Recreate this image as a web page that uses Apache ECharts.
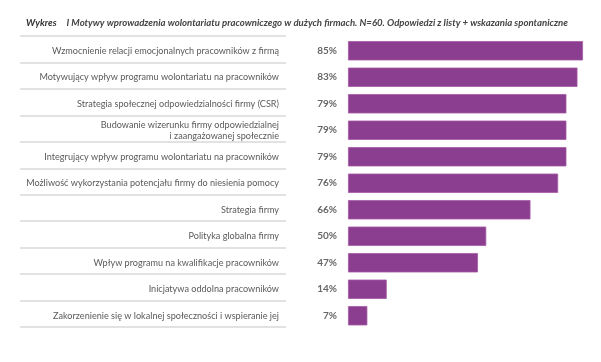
<!DOCTYPE html>
<html><head><meta charset="utf-8">
<script src="https://cdn.jsdelivr.net/npm/echarts@6/dist/echarts.min.js"></script>
<style>html,body{margin:0;padding:0;background:#fff}#c{width:601px;height:362px}</style>
</head><body><div id="c"></div>
<script>
const categories = [
  "Wzmocnienie relacji emocjonalnych pracowników z firmą",
  "Motywujący wpływ programu wolontariatu na pracowników",
  "Strategia społecznej odpowiedzialności firmy (CSR)",
  "Budowanie wizerunku firmy odpowiedzialnej\ni zaangażowanej społecznie",
  "Integrujący wpływ programu wolontariatu na pracowników",
  "Możliwość wykorzystania potencjału firmy do niesienia pomocy",
  "Strategia firmy",
  "Polityka globalna firmy",
  "Wpływ programu na kwalifikacje pracowników",
  "Inicjatywa oddolna pracowników",
  "Zakorzenienie się w lokalnej społeczności i wspieranie jej"
];
const values = [85, 83, 79, 79, 79, 76, 66, 50, 47, 14, 7];
const titleBold = "Wykres";
const titleText = "I Motywy wprowadzenia wolontariatu pracowniczego w dużych firmach. N=60. Odpowiedzi z listy + wskazania spontaniczne";

const chart = echarts.init(document.getElementById('c'));
const font = 'Lato';
chart.setOption({
  animation: false,
  title: {
    left: 21, top: 9,
    text: '{b|' + titleBold + '}  {t|' + titleText + '}',
    textStyle: {
      rich: {
        b: {fontFamily: font, fontSize: 9.6, fontWeight: 'bold', fontStyle: 'italic', color: '#333'},
        t: {fontFamily: font, fontSize: 9.6, fontStyle: 'italic', color: '#444'}
      }
    }
  },
  grid: [
    {left: 348, right: 18, top: 37.5, height: 291.5},
    {left: 20, width: 266, top: 36, height: 291}
  ],
  xAxis: [
    {gridIndex: 0, type: 'value', min: 0, max: 85, show: false},
    {gridIndex: 1, type: 'value', min: 0, max: 1, show: false}
  ],
  yAxis: [
    {gridIndex: 0, type: 'category', data: categories, inverse: true,
     axisLine: {show: false}, axisTick: {show: false}, splitLine: {show: false},
     axisLabel: {margin: 69, fontFamily: font, fontSize: 9.1, color: '#5a5a5a', lineHeight: 11, align: 'right'}},
    {gridIndex: 1, type: 'category', data: categories, inverse: true,
     axisLine: {show: false}, axisTick: {show: false}, axisLabel: {show: false},
     splitLine: {show: true, lineStyle: {color: '#d9d9d9', width: 1.5}}}
  ],
  series: [{
    type: 'bar', xAxisIndex: 0, yAxisIndex: 0,
    data: values,
    barCategoryGap: '27%',
    itemStyle: {color: '#8b3d8f', borderColor: '#a45aa6', borderWidth: 0.8},
    label: {show: true, position: 'left', distance: 11, formatter: '{c}%',
      fontFamily: font, fontSize: 10, fontWeight: 'bold', color: '#666'}
  }]
});
</script></body></html>
